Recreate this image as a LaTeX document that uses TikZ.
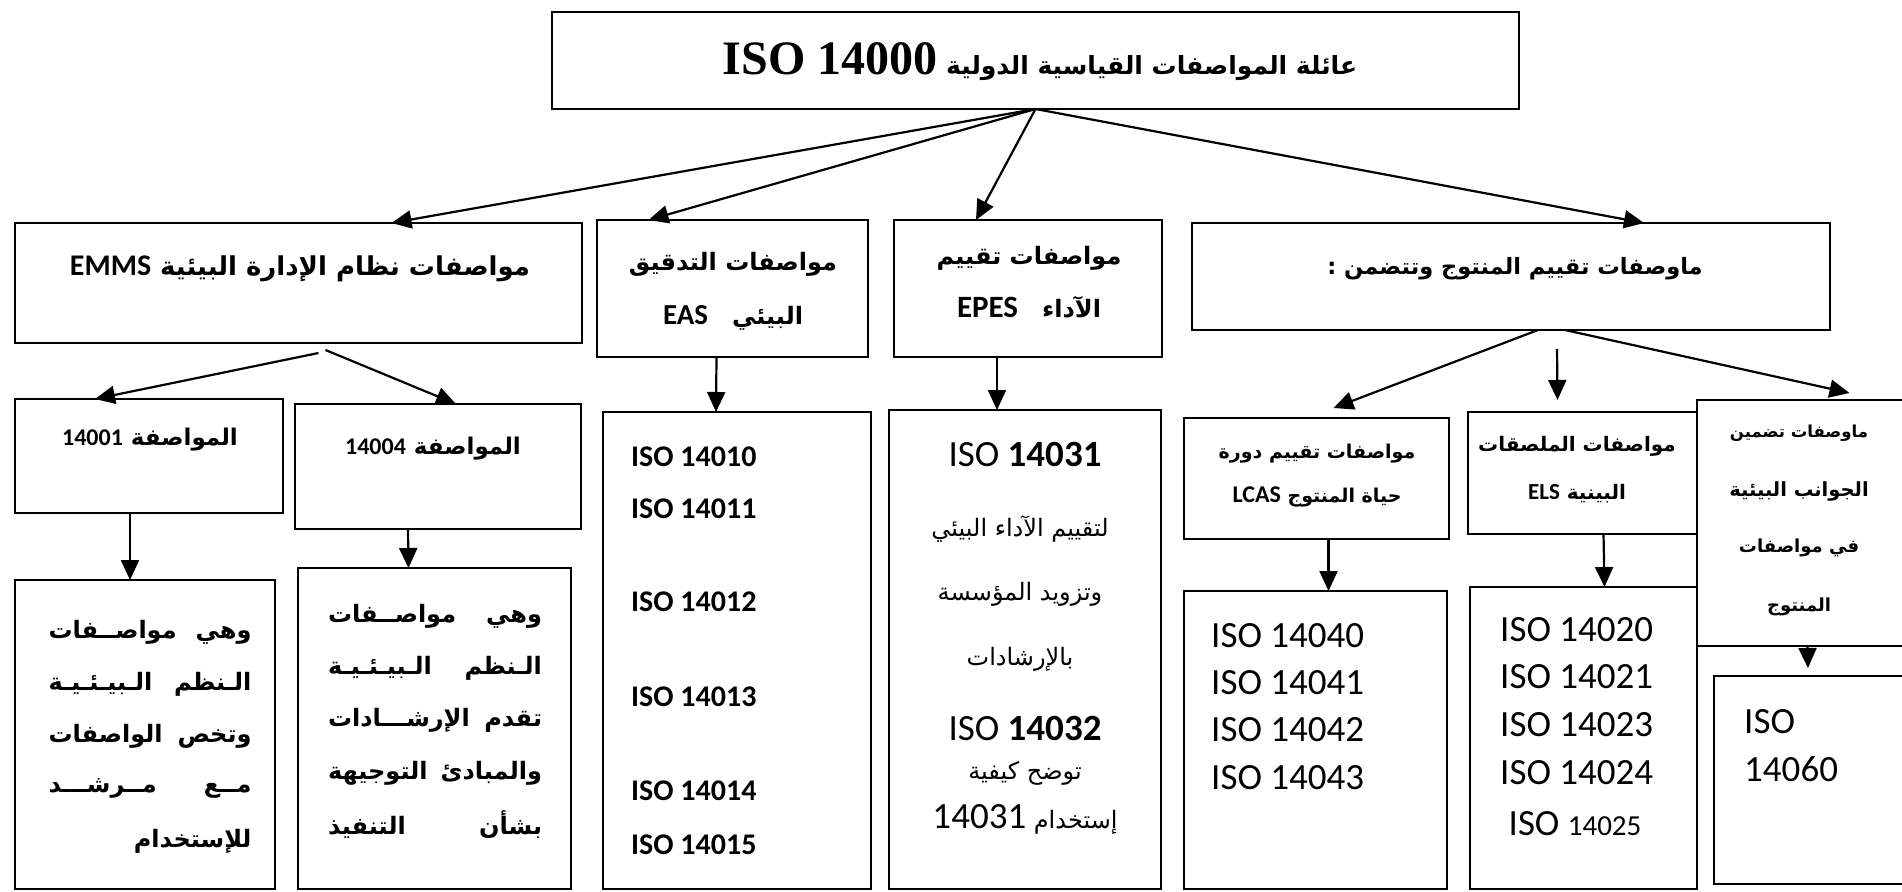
\documentclass[tikz,border=0pt]{standalone}
\usepackage{fontspec}
\usetikzlibrary{arrows.meta,calc}
\TeXXeTstate=1
\newfontfamily\ar[Script=Arabic]{DejaVu Sans}
\newfontfamily\lat{Carlito}
\newfontfamily\tms{Liberation Serif}
\newcommand\fs[2]{\fontsize{#1}{#2}\selectfont}
\newcommand\myR[1]{\beginR#1\endR}
\newcommand\myL[1]{\beginL#1\endL}
\newcommand\jl[2]{\hbox to #1{\beginR #2\endR}}
\tikzset{
 box/.style={draw, line width=2pt, anchor=north west, inner sep=0pt, outer sep=0pt},
 arr/.style={line width=2.2pt, -{Triangle[length=20pt,width=18pt]}},
 txt/.style={inner sep=0pt, outer sep=0pt, align=center},
 hd/.style={txt, font=\ar\bfseries\fs{#1}{#1}},
 rg/.style={txt, font=\ar\fs{#1}{#1}},
 isob/.style={inner sep=0pt, anchor=west, font=\lat\bfseries\fs{30}{30}},
 isor/.style={inner sep=0pt, anchor=west, font=\lat\fs{37}{37}},
}
\begin{document}
\begin{tikzpicture}[x=1pt,y=-1pt]
\useasboundingbox (0,0) rectangle (1902,891);
\clip (0,0) rectangle (1902,891);
\fill[white] (0,0) rectangle (1902,891);
% boxes
\node[box, line width=2.6pt, minimum width=967pt, minimum height=97pt] (top) at (552,12) {};
\node[box, minimum width=567pt, minimum height=120pt] (emms) at (15,223) {};
\node[box, minimum width=271pt, minimum height=137pt] (eas) at (597,220) {};
\node[box, minimum width=268pt, minimum height=137pt] (epes) at (894,220) {};
\node[box, minimum width=638pt, minimum height=107pt] (prod) at (1192,223) {};
\node[box, minimum width=268pt, minimum height=114pt] (s1) at (15,399) {};
\node[box, minimum width=286pt, minimum height=125pt] (s4) at (295,404) {};
\node[box, minimum width=260pt, minimum height=309pt] (t1) at (15,580) {};
\node[box, minimum width=273pt, minimum height=321pt] (t4) at (298,568) {};
\node[box, minimum width=268pt, minimum height=477pt] (easl) at (603,412) {};
\node[box, minimum width=272pt, minimum height=479pt] (epesl) at (889,410) {};
\node[box, minimum width=265pt, minimum height=121pt] (lcas) at (1184,418) {};
\node[box, minimum width=229pt, minimum height=122pt] (els) at (1468,412) {};
\node[box, minimum width=213pt, minimum height=246pt] (envp) at (1697,400) {};
\node[box, minimum width=263pt, minimum height=298pt] (lcasl) at (1184,591) {};
\node[box, minimum width=227pt, minimum height=302pt] (elsl) at (1470,587) {};
\node[box, minimum width=196pt, minimum height=208pt] (iso60) at (1714,676) {};
% arrows
\draw[arr] (top.south) -- ([xshift=93pt]emms.north);
\draw[arr] (top.south) -- ([xshift=-84pt]eas.north);
\draw[arr] (top.south) -- ([xshift=-52pt]epes.north);
\draw[arr] (top.south) -- ([xshift=133pt]prod.north);
\draw[arr] ([xshift=20pt,yshift=-10pt]emms.south) -- ([xshift=-54pt]s1.north);
\draw[arr] ([xshift=27pt,yshift=-7pt]emms.south) -- ([xshift=18pt]s4.north);
\draw[arr] ([xshift=-19pt]s1.south) -- ([xshift=-15pt]t1.north);
\draw[arr] ([xshift=-30pt]s4.south) -- ([xshift=-26pt]t4.north);
\draw[arr] ([xshift=-16pt]eas.south) -- ([xshift=-21pt]easl.north);
\draw[arr] ([xshift=-31pt]epes.south) -- ([xshift=-28pt]epesl.north);
\draw[arr] ([xshift=27pt]prod.south) -- ([xshift=17pt,yshift=10pt]lcas.north);
\draw[arr] ([xshift=46pt,yshift=-19pt]prod.south) -- ([xshift=-25pt,yshift=12pt]els.north);
\draw[arr] ([xshift=54pt]prod.south) -- ([xshift=46pt,yshift=7pt]envp.north);
\draw[arr] ([xshift=12pt]lcas.south) -- ([xshift=13pt]lcasl.north);
\draw[arr] ([xshift=21pt]els.south) -- ([xshift=21pt]elsl.north);
\draw[arr] ([xshift=4pt]envp.south) -- ([xshift=-4pt,yshift=8pt]iso60.north);
% texts
\node[hd=25] (ttl) at (1040,62) {\myR{عائلة المواصفات القياسية الدولية \myL{\tms\fs{48}{48}ISO 14000}}};
\node[hd=26] (emmst) at (300,269) {\myR{مواصفات نظام الإدارة البيئية \myL{\lat\fs{30}{30}EMMS}}};
\node[hd=24] (eas1) at (733,264) {\myR{مواصفات التدقيق}};
\node[hd=24] (eas2) at (733,318) {\myR{البيئي\quad\myL{\lat\fs{29}{29}EAS}}};
\node[hd=24] (epes1) at (1029,258) {\myR{مواصفات تقييم}};
\node[hd=24] (epes2) at (1029,307) {\myR{الآداء\quad\myL{\lat\fs{31}{31}EPES}}};
\node[hd=22.5] (prodt) at (1515,269) {\myR{ماوصفات تقييم المنتوج وتتضمن :}};
\node[hd=23] (s1t) at (150,440) {\myR{المواصفة \myL{\lat\fs{24}{24}14001}}};
\node[hd=23] (s4t) at (433,449) {\myR{المواصفة \myL{\lat\fs{24}{24}14004}}};
% 14001 body
\node[hd=24] (b11) at (150,632) {\jl{203pt}{وهي\hfill مواصــفات}};
\node[hd=24] (b12) at (150,684) {\jl{203pt}{الـنظم\hfill الـبيـئـيـة}};
\node[hd=24] (b13) at (150,736) {\jl{203pt}{وتخص\hfill الواصفات}};
\node[hd=24] (b14) at (150,788) {\jl{203pt}{مــع\hfill مــرشـــد}};
\node[hd=24] (b15) at (150,841) {\jl{203pt}{للإستخدام\hfill}};
% 14004 body
\node[hd=24] (b41) at (435,616) {\jl{214pt}{وهي\hfill مواصــفات}};
\node[hd=24] (b42) at (435,668) {\jl{214pt}{الـنظم\hfill الـبيـئـيـة}};
\node[hd=24] (b43) at (435,720) {\jl{214pt}{تقدم\hfill الإرشـــادات}};
\node[hd=24] (b44) at (435,773) {\jl{214pt}{والمبادئ\hfill التوجيهة}};
\node[hd=24] (b45) at (435,825) {\jl{214pt}{بشأن\hfill التنفيذ}};
% EAS list
\node[isob] (e10) at (631,457) {ISO 14010};
\node[isob] (e11) at (631,509) {ISO 14011};
\node[isob] (e12) at (631,602) {ISO 14012};
\node[isob] (e13) at (631,697) {ISO 14013};
\node[isob] (e14) at (631,791) {ISO 14014};
\node[isob] (e15) at (631,845) {ISO 14015};
% EPES list
\node[txt, font=\lat\fs{37}{37}] (p31) at (1025,454) {ISO {\bfseries 14031}};
\node[rg=24] (p1) at (1020,529) {\myR{لتقييم الآداء البيئي}};
\node[rg=24] (p2) at (1020,594) {\myR{وتزويد المؤسسة}};
\node[rg=24] (p3) at (1020,659) {\myR{بالإرشادات}};
\node[txt, font=\lat\fs{37}{37}] (p32) at (1025,728) {ISO {\bfseries 14032}};
\node[rg=24] (p4) at (1025,773) {\myR{توضح كيفية}};
\node[rg=24] (p5) at (1025,819) {\myR{إستخدام \myL{\lat\fs{37}{37}14031}}};
% LCAS
\node[hd=19] (lc1) at (1317,454) {\myR{مواصفات تقييم دورة}};
\node[hd=19] (lc2) at (1317,497) {\myR{حياة المنتوج \myL{\lat\fs{24}{24}LCAS}}};
\node[isor] (l40) at (1211,636) {ISO 14040};
\node[isor] (l41) at (1211,683) {ISO 14041};
\node[isor] (l42) at (1211,730) {ISO 14042};
\node[isor] (l43) at (1211,778) {ISO 14043};
% ELS
\node[hd=20] (el1) at (1577,446) {\myR{مواصفات الملصقات}};
\node[hd=20] (el2) at (1577,494) {\myR{البينية \myL{\lat\fs{23}{23}ELS}}};
\node[isor] (l20) at (1500,630) {ISO 14020};
\node[isor] (l21) at (1500,677) {ISO 14021};
\node[isor] (l23) at (1500,725) {ISO 14023};
\node[isor] (l24) at (1500,773) {ISO 14024};
\node[txt, font=\lat\fs{37}{37}] (l25) at (1575,824) {ISO {\fs{29}{29}14025}};
% env aspects
\node[hd=16.5] (en1) at (1799,433) {\myR{ماوصفات تضمين}};
\node[hd=19.5] (en2) at (1799,491) {\myR{الجوانب البيئية}};
\node[hd=18] (en3) at (1799,548) {\myR{في مواصفات}};
\node[hd=18] (en4) at (1799,607) {\myR{المنتوج}};
\node[isor] (i60a) at (1744,722) {ISO};
\node[isor] (i60b) at (1744,769) {14060};
\end{tikzpicture}
\end{document}
